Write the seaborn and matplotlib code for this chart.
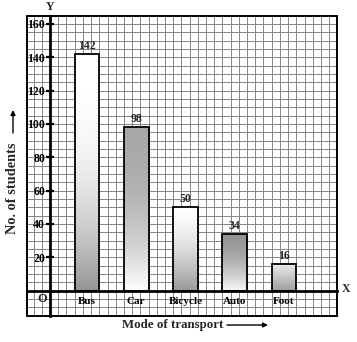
import numpy as np
import pandas as pd
import matplotlib
matplotlib.use("Agg")
import matplotlib.pyplot as plt
import seaborn as sns
from matplotlib.patches import Rectangle

# Data
modes = ["Bus", "Car", "Bicycle", "Auto", "Foot"]
students = [142, 98, 50, 34, 16]
y_ticks = [20, 40, 60, 80, 100, 120, 140, 160]

# Shading of each bar: grey level at the top / bottom (1 = white) and profile
shade_top = [1.0, 0.66, 1.0, 0.58, 0.92]
shade_bottom = [0.58, 1.0, 0.60, 0.97, 0.62]
shade_power = [2.4, 2.2, 1.5, 1.6, 1.0]

sns.set_style("white")
plt.rcParams["font.family"] = ["Liberation Serif", "DejaVu Serif"]
plt.rcParams["font.weight"] = "bold"

W, H = 357, 342
fig = plt.figure(figsize=(W / 100, H / 100), dpi=100)
ax = fig.add_axes([27 / W, 1 - 316 / H, 310 / W, 300 / H])

df = pd.DataFrame({"mode": modes, "students": students})
sns.barplot(data=df, x="mode", y="students", color="white", width=0.5,
            edgecolor="black", linewidth=1.3, saturation=1, ax=ax, zorder=3)

XMIN, XMAX = -1.218, 5.076
YMIN, YMAX = -15.2, 164.8

# graph-paper grid
for yv in np.arange(-15, 165, 5):
    ax.axhline(yv, color="#858585", lw=0.7, zorder=0)
for k in range(-7, 30):
    ax.axvline((k + 0.5) / 6, color="#858585", lw=0.7, zorder=0)

# gradient fills clipped to the bars
for p, top, bot, pw in zip(ax.patches, shade_top, shade_bottom, shade_power):
    x0, y0, w, h = p.get_x(), p.get_y(), p.get_width(), p.get_height()
    t = np.linspace(0, 1, 200)[:, None]
    grad = top + (bot - top) * t ** pw
    im = ax.imshow(grad, extent=[x0, x0 + w, y0, y0 + h], origin="upper",
                   cmap="gray", vmin=0, vmax=1, aspect="auto",
                   interpolation="bilinear", zorder=2)
    im.set_clip_path(p)
    p.set_facecolor("none")

ax.bar_label(ax.containers[0], padding=1.5, fontsize=8.5, fontweight="bold")

ax.set_xlim(XMIN, XMAX)
ax.set_ylim(YMIN, YMAX)

# axes through the origin
ax.spines["left"].set_position(("data", -0.75))
ax.spines["bottom"].set_position(("data", 0))
for s in ("left", "bottom"):
    ax.spines[s].set_linewidth(2.0)
    ax.spines[s].set_color("black")
    ax.spines[s].set_zorder(4)
ax.spines["top"].set_visible(False)
ax.spines["right"].set_visible(False)
ax.add_patch(Rectangle((0, 0), 1, 1, transform=ax.transAxes, fill=False,
                       edgecolor="black", lw=1.4, zorder=5, clip_on=False))

ax.set_yticks(y_ticks)
ax.set_yticklabels([str(v) for v in y_ticks])
ax.tick_params(axis="y", left=True, direction="inout", length=6, width=1.6,
               pad=0.5, labelsize=8.5, colors="black")
ax.tick_params(axis="x", bottom=False, length=0, pad=4.5, labelsize=8,
               colors="black")
for lab in ax.get_xticklabels() + ax.get_yticklabels():
    lab.set_fontweight("bold")
ax.set_xlabel("")
ax.set_ylabel("")

ax.text(-0.915, -5, "O", ha="center", va="center", fontsize=9,
        fontweight="bold")
ax.text(-0.75, YMAX + 2.0, "Y", ha="center", va="bottom", fontsize=8.5,
        fontweight="bold", clip_on=False)
ax.text(XMAX + 0.1, 1.0, "X", ha="left", va="center", fontsize=8.5,
        fontweight="bold", clip_on=False)

# axis titles with long arrows
fig.text(122 / W, 1 - 325 / H, "Mode of transport", ha="left", va="center",
         fontsize=9.3, fontweight="bold")
fig.text(13 / W, 1 - 188 / H, "No. of students", ha="center", va="center",
         rotation=90, fontsize=10.3, fontweight="bold")
ax.annotate("", xy=(268, H - 325), xytext=(227, H - 325),
            xycoords="figure pixels", textcoords="figure pixels",
            arrowprops=dict(arrowstyle="-|>", lw=1.0, color="black",
                            mutation_scale=7, shrinkA=0, shrinkB=0))
ax.annotate("", xy=(13, H - 110), xytext=(13, H - 133),
            xycoords="figure pixels", textcoords="figure pixels",
            arrowprops=dict(arrowstyle="-|>", lw=1.0, color="black",
                            mutation_scale=7, shrinkA=0, shrinkB=0))

fig.savefig("out.png", dpi=100, facecolor="white")
